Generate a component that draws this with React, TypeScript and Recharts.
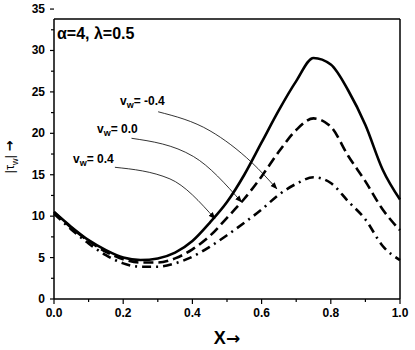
import { LineChart, Line, XAxis, YAxis } from "recharts";

const xValues = [0, 0.05, 0.1, 0.15, 0.2, 0.25, 0.3, 0.35, 0.4, 0.45, 0.5, 0.55, 0.6, 0.65, 0.7, 0.75, 0.8, 0.85, 0.9, 0.95, 1.0];
const tauVwNeg04 = [10.5, 8.7, 7.1, 5.9, 5.0, 4.7, 4.9, 5.6, 7.0, 9.2, 11.7, 15.0, 18.9, 22.8, 26.3, 29.1, 28.3, 25.2, 21.0, 15.6, 12.0];
const tauVw00 = [10.5, 8.6, 7.0, 5.7, 4.8, 4.4, 4.4, 4.9, 6.0, 7.6, 9.8, 12.1, 14.8, 17.8, 20.4, 21.8, 20.8, 17.3, 14.2, 10.8, 8.3];
const tauVw04 = [10.3, 8.4, 6.7, 5.3, 4.3, 3.9, 3.9, 4.3, 5.1, 6.3, 7.7, 9.2, 10.8, 12.6, 13.9, 14.7, 14.0, 11.8, 9.6, 6.4, 4.7];

const xTicks = [0, 0.1, 0.2, 0.3, 0.4, 0.5, 0.6, 0.7, 0.8, 0.9, 1.0];
const yTicks = [0, 2.5, 5, 7.5, 10, 12.5, 15, 17.5, 20, 22.5, 25, 27.5, 30, 32.5, 35];

// annotation arrows (label -> curve), data units
const arrowNeg04 = [
  { x: 0.301, y: 22.6 },
  { x: 0.451, y: 20.3 },
  { x: 0.571, y: 16.5 },
  { x: 0.644, y: 13.3 },
];
const arrow00 = [
  { x: 0.224, y: 19.4 },
  { x: 0.403, y: 17.2 },
  { x: 0.542, y: 11.7 },
];
const arrow04 = [
  { x: 0.176, y: 15.9 },
  { x: 0.335, y: 14.5 },
  { x: 0.465, y: 9.7 },
];

const data = xValues.map((x, i) => ({
  x,
  neg04: tauVwNeg04[i],
  zero: tauVw00[i],
  pos04: tauVw04[i],
}));

const FONT = "'Liberation Sans', Arial, sans-serif";
const ARROW_FONT = "'DejaVu Sans', sans-serif";

function YTick(props: any) {
  const { x, y, payload } = props;
  const v = payload.value as number;
  const major = v % 5 === 0;
  return (
    <g>
      <line x1={x - (major ? 4 : 3)} x2={x} y1={y} y2={y} stroke="#000" strokeWidth={1.2} />
      {major && (
        <text x={x - 9} y={y + 4} textAnchor="end" fontSize={12} fontWeight="bold" fontFamily={FONT} fill="#000">
          {v}
        </text>
      )}
    </g>
  );
}

function XTick(props: any) {
  const { x, y, payload } = props;
  const v = payload.value as number;
  const major = Math.round(v * 10) % 2 === 0;
  return (
    <g>
      <line x1={x} x2={x} y1={y} y2={y + (major ? 5 : 3)} stroke="#000" strokeWidth={1.2} />
      {major && (
        <text x={x} y={y + 18} textAnchor="middle" fontSize={12} fontWeight="bold" fontFamily={FONT} fill="#000">
          {v.toFixed(1)}
        </text>
      )}
    </g>
  );
}

export default function App() {
  return (
    <div style={{ position: "absolute", left: 0, top: 0, width: 415, height: 350, background: "#fff" }}>
      <LineChart width={415} height={350} data={data} margin={{ top: 19, right: 15, bottom: 0, left: 0 }}>
        <defs>
          <marker id="arrowHead" viewBox="0 0 10 10" refX="9" refY="5" markerWidth="7" markerHeight="7" orient="auto" markerUnits="userSpaceOnUse">
            <path d="M0,1 L10,5 L0,9 z" fill="#000" />
          </marker>
        </defs>
        <XAxis
          dataKey="x"
          type="number"
          domain={[0, 1]}
          ticks={xTicks}
          height={51}
          tickLine={false}
          tickSize={0}
          tickMargin={0}
          tick={<XTick />}
          interval={0}
          stroke="#000"
          strokeWidth={1.5}
        />
        <XAxis
          xAxisId="top"
          dataKey="x"
          type="number"
          orientation="top"
          mirror
          domain={[0, 1]}
          ticks={xTicks}
          tick={false}
          tickSize={3}
          interval={0}
          stroke="#000"
          strokeWidth={1.5}
        />
        <YAxis
          type="number"
          domain={[0, 33.8]}
          allowDataOverflow
          ticks={yTicks}
          width={54}
          tickLine={false}
          tickSize={0}
          tickMargin={0}
          tick={<YTick />}
          interval={0}
          stroke="#000"
          strokeWidth={1.5}
        />
        <YAxis
          yAxisId="right"
          orientation="right"
          mirror
          type="number"
          domain={[0, 33.8]}
          allowDataOverflow
          ticks={yTicks.filter((t) => t <= 32.5)}
          tick={false}
          tickSize={3}
          interval={0}
          stroke="#000"
          strokeWidth={1.5}
        />
        <Line type="monotone" dataKey="neg04" stroke="#000" strokeWidth={2.6} dot={false} isAnimationActive={false} />
        <Line type="monotone" dataKey="zero" stroke="#000" strokeWidth={2.6} strokeDasharray="10 5" dot={false} isAnimationActive={false} />
        <Line type="monotone" dataKey="pos04" stroke="#000" strokeWidth={2.6} strokeDasharray="9 5 2 5" dot={false} isAnimationActive={false} />
        <Line data={arrowNeg04} type="monotone" dataKey="y" stroke="#000" strokeWidth={0.8} dot={false} markerEnd="url(#arrowHead)" isAnimationActive={false} />
        <Line data={arrow00} type="monotone" dataKey="y" stroke="#000" strokeWidth={0.8} dot={false} markerEnd="url(#arrowHead)" isAnimationActive={false} />
        <Line data={arrow04} type="monotone" dataKey="y" stroke="#000" strokeWidth={0.8} dot={false} markerEnd="url(#arrowHead)" isAnimationActive={false} />
      </LineChart>
      <svg width={415} height={350} style={{ position: "absolute", left: 0, top: 0, pointerEvents: "none" }} fontFamily={FONT}>
        <text x={57} y={39} fontSize={16} fontWeight="bold" fill="#000">α=4, λ=0.5</text>
        <text x={120} y={105} fontSize={12} fontWeight="bold" fill="#000">
          v<tspan fontSize={9} dy={3}>w</tspan><tspan dy={-3}>= -0.4</tspan>
        </text>
        <text x={97} y={133} fontSize={12} fontWeight="bold" fill="#000">
          v<tspan fontSize={9} dy={3}>w</tspan><tspan dy={-3}>= 0.0</tspan>
        </text>
        <text x={73} y={163} fontSize={12} fontWeight="bold" fill="#000">
          v<tspan fontSize={9} dy={3}>w</tspan><tspan dy={-3}>= 0.4</tspan>
        </text>
        <text transform="translate(14,157) rotate(-90)" textAnchor="middle" fontSize={13} fill="#000">
          |τ<tspan fontSize={9} dy={4}>w</tspan><tspan dy={-4}>| </tspan>
          <tspan fontFamily={ARROW_FONT} fontWeight="bold" fontSize={13}>→</tspan>
        </text>
        <text x={227} y={344} textAnchor="middle" fontSize={18} fontWeight="bold" fill="#000">
          X<tspan fontFamily={ARROW_FONT} fontSize={17}>→</tspan>
        </text>
      </svg>
    </div>
  );
}
